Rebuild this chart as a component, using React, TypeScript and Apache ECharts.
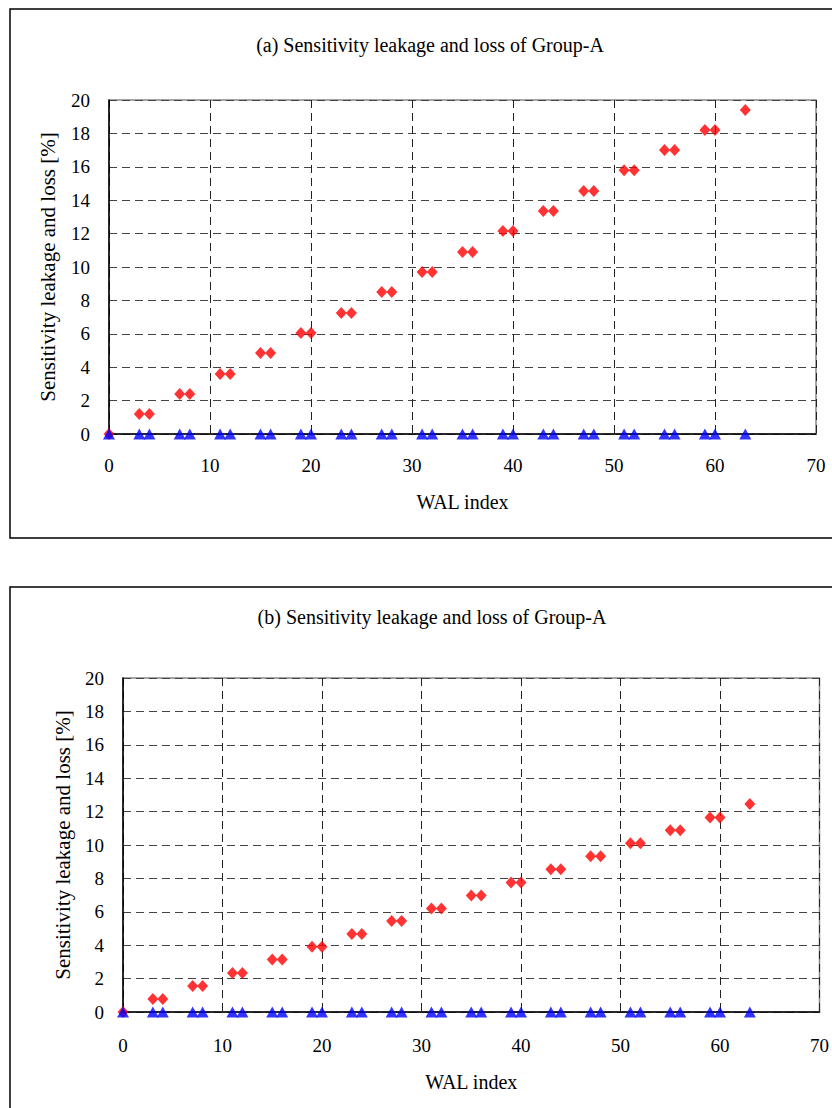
import React, { useEffect, useRef } from "react";
import * as echarts from "echarts";

const walIndex = [0, 3, 4, 7, 8, 11, 12, 15, 16, 19, 20, 23, 24, 27, 28, 31, 32, 35, 36, 39, 40, 43, 44, 47, 48, 51, 52, 55, 56, 59, 60, 63];
const lossA = [0, 1.2, 1.2, 2.4, 2.4, 3.6, 3.6, 4.85, 4.85, 6.05, 6.05, 7.25, 7.25, 8.5, 8.5, 9.7, 9.7, 10.9, 10.9, 12.15, 12.15, 13.35, 13.35, 14.55, 14.55, 15.8, 15.8, 17.0, 17.0, 18.2, 18.2, 19.4];
const lossB = [0, 0.78, 0.78, 1.55, 1.55, 2.33, 2.33, 3.15, 3.15, 3.9, 3.9, 4.67, 4.67, 5.45, 5.45, 6.2, 6.2, 6.97, 6.97, 7.75, 7.75, 8.55, 8.55, 9.33, 9.33, 10.1, 10.1, 10.88, 10.88, 11.65, 11.65, 12.45];
const leakA = [0, 0, 0, 0, 0, 0, 0, 0, 0, 0, 0, 0, 0, 0, 0, 0, 0, 0, 0, 0, 0, 0, 0, 0, 0, 0, 0, 0, 0, 0, 0, 0];
const leakB = [0, 0, 0, 0, 0, 0, 0, 0, 0, 0, 0, 0, 0, 0, 0, 0, 0, 0, 0, 0, 0, 0, 0, 0, 0, 0, 0, 0, 0, 0, 0, 0];
const titles = ["(a) Sensitivity leakage and loss of Group-A", "(b) Sensitivity leakage and loss of Group-A"];
const xAxisName = "WAL index";
const yAxisName = "Sensitivity leakage and loss [%]";

const FONT = "'Liberation Serif', 'Times New Roman', serif";

const pairs = (xs: number[], ys: number[]) => xs.map((x, i) => [x, ys[i]]);

export default function App() {
  const ref = useRef<HTMLDivElement>(null);
  useEffect(() => {
    if (!ref.current) return;
    const chart = echarts.init(ref.current, undefined, { renderer: "svg" });
    const grids = [
      { left: 109, top: 100, width: 707, height: 334 },
      { left: 123, top: 678, width: 707, height: 334 },
    ];
    const mkX = (gi: number, labelMargin: number, nameGap: number) => ({
      type: "value",
      gridIndex: gi,
      min: 0,
      max: 70,
      interval: 10,
      name: xAxisName,
      nameLocation: "middle",
      nameGap,
      nameTextStyle: { fontFamily: FONT, fontSize: 20, color: "#000" },
      axisLine: { show: true, onZero: false, lineStyle: { color: "#000", width: 1.5 } },
      axisTick: { show: false },
      axisLabel: { fontFamily: FONT, fontSize: 19, color: "#000", margin: labelMargin },
      splitLine: { show: true, lineStyle: { color: "#222", type: [8, 5], width: 1 } },
    });
    const mkY = (gi: number, nameGap: number) => ({
      type: "value",
      gridIndex: gi,
      min: 0,
      max: 20,
      interval: 2,
      name: yAxisName,
      nameLocation: "middle",
      nameGap,
      nameTextStyle: { fontFamily: FONT, fontSize: 21, color: "#000" },
      axisLine: { show: true, lineStyle: { color: "#000", width: 1.5 } },
      axisTick: { show: false },
      axisLabel: { fontFamily: FONT, fontSize: 19, color: "#000", margin: 19 },
      splitLine: { show: true, lineStyle: { color: "#444", type: [8, 5], width: 1 } },
    });
    const redSeries = (gi: number, data: number[][]) => ({
      type: "scatter",
      xAxisIndex: gi,
      yAxisIndex: gi,
      data,
      symbol: "diamond",
      symbolSize: [11, 12],
      itemStyle: { color: "#ff0000" },
      clip: false,
      z: 3,
    });
    const blueSeries = (gi: number, data: number[][]) => ({
      type: "scatter",
      xAxisIndex: gi,
      yAxisIndex: gi,
      data,
      symbol: "triangle",
      symbolSize: [12, 11],
      itemStyle: { color: "#0000ff" },
      clip: false,
      z: 4,
    });
    chart.setOption({
      animation: false,
      backgroundColor: "#fff",
      title: [
        { text: titles[0], left: 425, top: 30, textAlign: "center", textStyle: { fontFamily: FONT, fontSize: 20, fontWeight: "normal", color: "#000" } },
        { text: titles[1], left: 427, top: 602, textAlign: "center", textStyle: { fontFamily: FONT, fontSize: 20, fontWeight: "normal", color: "#000" } },
      ],
      grid: grids.map((g) => ({ ...g, show: true, borderColor: "#888", borderWidth: 1.5, backgroundColor: "transparent" })),
      xAxis: [mkX(0, 22, 58), mkX(1, 24, 60)],
      yAxis: [mkY(0, 51), mkY(1, 50)],
      series: [
        redSeries(0, pairs(walIndex, lossA)),
        blueSeries(0, pairs(walIndex, leakA)),
        redSeries(1, pairs(walIndex, lossB)),
        blueSeries(1, pairs(walIndex, leakB)),
      ],
      graphic: [
        { type: "rect", shape: { x: 10, y: 9, width: 840, height: 529 }, style: { fill: "none", stroke: "#000", lineWidth: 1.5 }, silent: true },
        { type: "rect", shape: { x: 10, y: 587, width: 840, height: 540 }, style: { fill: "none", stroke: "#000", lineWidth: 1.5 }, silent: true },
      ],
    });
    return () => chart.dispose();
  }, []);
  return <div ref={ref} style={{ position: "absolute", left: 0, top: 0, width: 832, height: 1108 }} />;
}
